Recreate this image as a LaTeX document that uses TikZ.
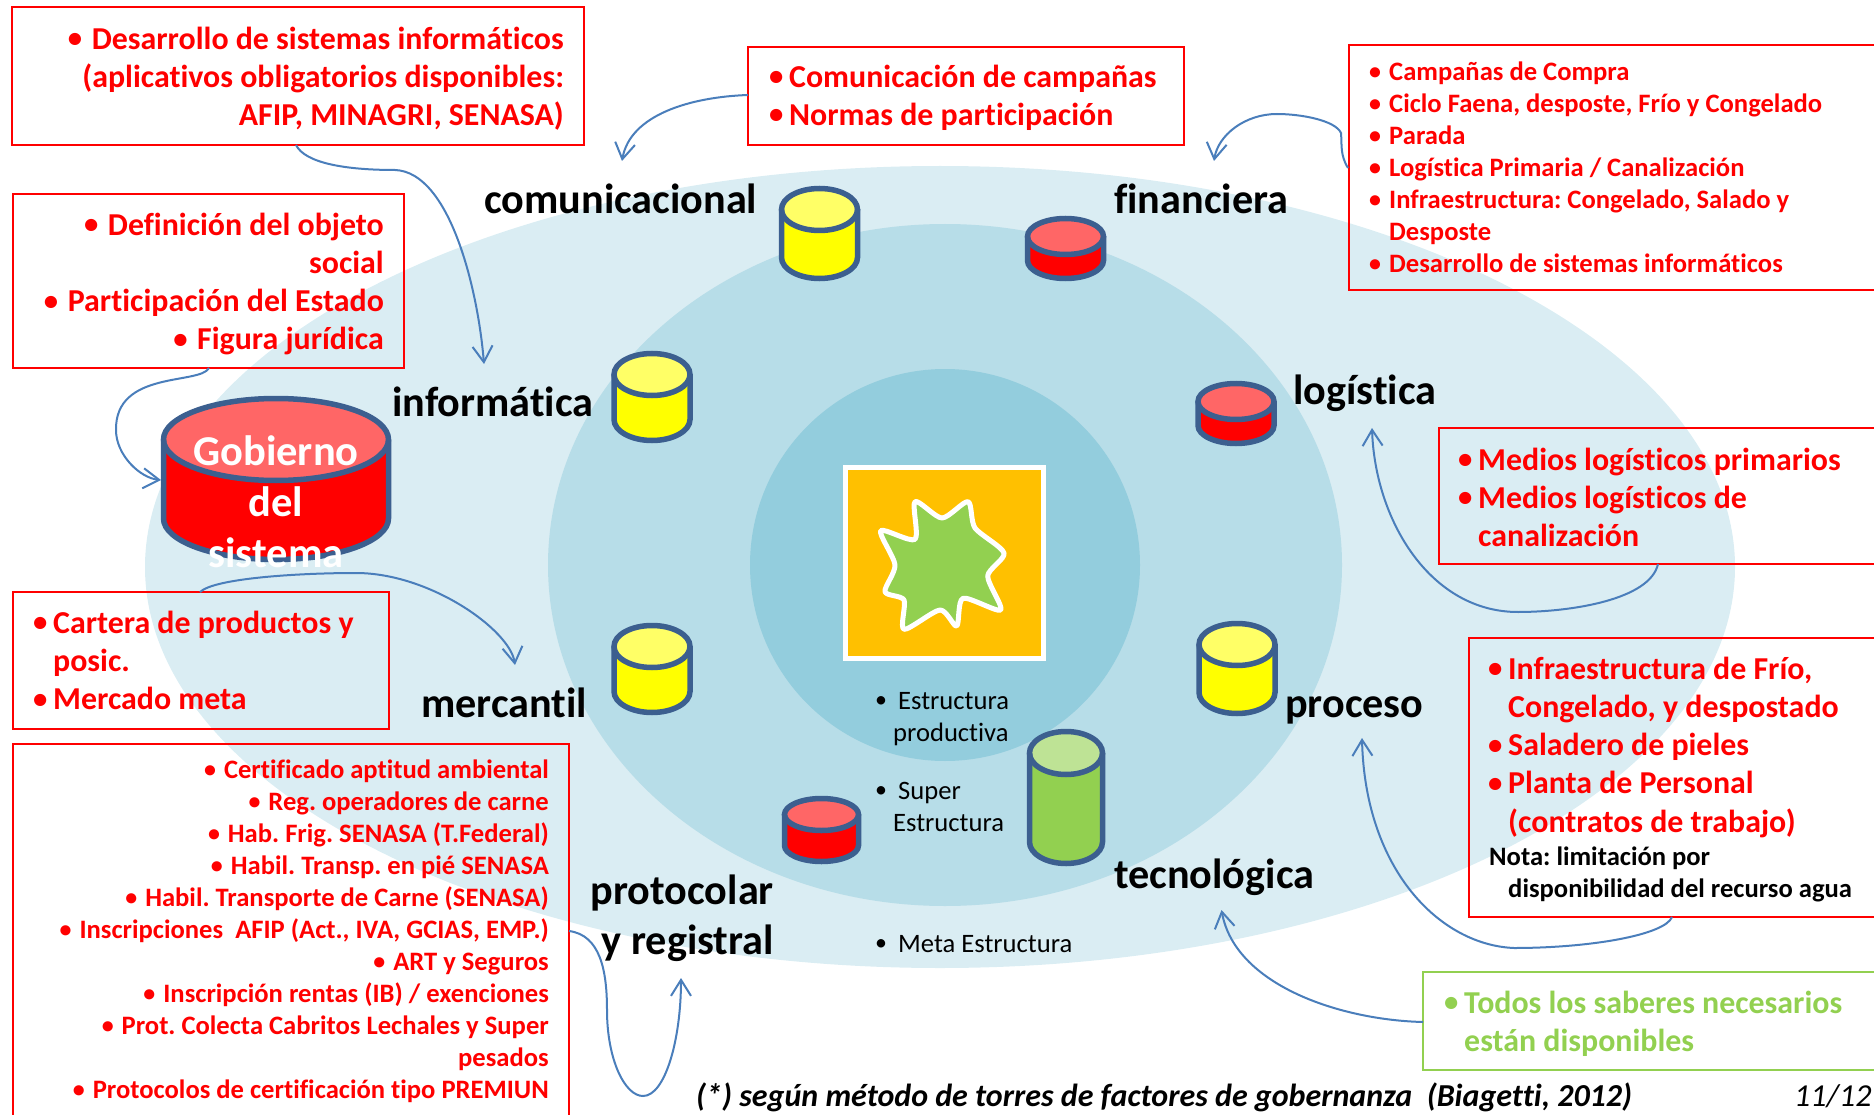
\documentclass[tikz,border=0pt]{standalone}
\usepackage{fontspec}
\setmainfont{Carlito}[Ligatures=CommonOff]
\frenchspacing
\usetikzlibrary{arrows.meta,shapes.geometric}
\definecolor{ringa}{HTML}{DAEDF3}
\definecolor{ringb}{HTML}{B7DDE8}
\definecolor{ringc}{HTML}{93CDDD}
\definecolor{cylline}{HTML}{3C5F8F}
\definecolor{conn}{HTML}{4A7EBB}
\definecolor{grn}{HTML}{92D050}
\definecolor{grnlt}{HTML}{BEE395}
\definecolor{redlt}{HTML}{FF6666}
\definecolor{yelfull}{HTML}{FFFF00}
\definecolor{yellt}{HTML}{FFFF66}
\definecolor{orng}{HTML}{FFC000}
\newcommand{\sbul}{\raisebox{0.05em}{\scalebox{0.9}{•}}}
\newcommand{\bl}{\sbul\hspace{0.3em}}
\newcommand{\bh}[1]{\makebox[#1pt][l]{\hspace{1pt}\sbul}}
\newcommand{\ih}[1]{\hspace*{#1pt}}
% cx, half width, top outer y, bottom outer y, ry, body fill, top fill
\newcommand{\mycyl}[7]{%
  \pgfmathsetmacro{\ctop}{#3+2.5+#5}
  \pgfmathsetmacro{\cbot}{#4-2.5-#5}
  \fill[#6] (#1-#2,\ctop) -- (#1-#2,\cbot) arc[start angle=180,end angle=360,x radius=#2,y radius=-#5] -- (#1+#2,\ctop) -- cycle;
  \filldraw[cylbody,fill=#7] (#1,\ctop) ellipse[x radius=#2,y radius=#5];
  \draw[cylbody] (#1-#2,\ctop) -- (#1-#2,\cbot) .. controls (#1-#2,\cbot+#5*0.55) and (#1-#2*0.55,\cbot+#5) .. (#1,\cbot+#5) .. controls (#1+#2*0.55,\cbot+#5) and (#1+#2,\cbot+#5*0.55) .. (#1+#2,\cbot) -- (#1+#2,\ctop);
}
\tikzset{
  x=1pt,y=-1pt,
  cylbody/.style={draw=cylline,line width=5.5pt},
  boxst/.style={draw=red,line width=2pt,anchor=north west,inner sep=0pt,outer sep=0pt},
  bigt/.style={inner sep=0pt,text=red,yshift=-1pt,font=\fontsize{31.9}{38.2}\selectfont\bfseries},
  smallt/.style={inner sep=0pt,text=red,yshift=-0.5pt,font=\fontsize{26.6}{32}\selectfont\bfseries},
  axis/.style={anchor=base west,inner sep=0pt,yshift=-1.5pt,font=\fontsize{42.2}{50}\selectfont\bfseries},
  plain/.style={inner sep=0pt,anchor=base west,yshift=-1pt,font=\fontsize{26.6}{32}\selectfont},
  link/.style={draw=conn,line width=2pt,-{Straight Barb[length=16pt,width=20pt,line width=2pt]}},
}
\begin{document}
\begin{tikzpicture}
\useasboundingbox (0,0) rectangle (1874,1115);
% rings
\fill[ringa] (940,567) ellipse[x radius=795,y radius=401];
\fill[ringb] (945,565) ellipse[x radius=397,y radius=341];
\fill[ringc] (945,565) ellipse[x radius=195,y radius=196];
% square + star
\node[draw=white,fill=orng,line width=5pt,minimum width=198pt,minimum height=191pt,inner sep=0pt] (sq) at (944.5,563) {};
\filldraw[fill=grn,draw=white,line width=5pt,line join=round]
 plot[smooth cycle,tension=0.45] coordinates {(915,501.7)(942,518)(968,501.7)(975,528)(1004,553)(987.7,576)(1000.7,610)(963,598.3)(956.7,626)(940,610)(904,629.3)(904,600)(885,591.7)(895,565)(880.7,530.7)(915,539.3)};
% cylinders
\mycyl{819.5}{38}{186}{281}{21}{yelfull}{yellt}
\mycyl{1065.5}{38}{216}{281}{18}{red}{redlt}
\mycyl{652}{38}{351}{443}{21}{yelfull}{yellt}
\mycyl{1236}{38}{381}{446}{18}{red}{redlt}
\mycyl{652}{38}{623}{715}{21}{yelfull}{yellt}
\mycyl{1237}{38}{621}{716}{21}{yelfull}{yellt}
\mycyl{1066}{36.5}{729}{866}{21.5}{grn}{grnlt}
\mycyl{821.5}{37}{796}{864}{16}{red}{redlt}
\mycyl{276}{112.5}{396}{562}{41}{red}{redlt}
% Gobierno text
\node[inner sep=0pt,text=white,align=center,anchor=north,font=\fontsize{42.5}{51}\selectfont\bfseries] (gob) at (276,430) {\strut Gobierno\\del\\sistema};
% axis labels
\node[axis] (lcom) at (484,212) {comunicacional};
\node[axis] (lfin) at (1114,212) {financiera};
\node[axis] (linf) at (392,415) {informática};
\node[axis] (llog) at (1293,403) {logística};
\node[axis] (lmer) at (421,716) {mercantil};
\node[axis] (lpro) at (1285,716) {proceso};
\node[axis] (ltec) at (1114,887) {tecnológica};
\node[axis,anchor=north east,align=right,font=\fontsize{42.2}{50}\selectfont\bfseries] (lprt) at (774,868) {\strut protocolar\\y registral};
% black small text
\node[plain] (e1) at (875,708) {\sbul};
\node[plain] (e1b) at (898,708) {Estructura};
\node[plain] (e1c) at (893,740) {productiva};
\node[plain] (e2) at (875,798) {\sbul};
\node[plain] (e2b) at (898,798) {Super};
\node[plain] (e2c) at (893,830) {Estructura};
\node[plain] (e3) at (875,951) {\sbul};
\node[plain] (e3b) at (898,951) {Meta Estructura};
% boxes
\node[boxst,minimum width=572pt,minimum height=138pt] (b1) at (12,7) {};
\node[boxst,minimum width=391pt,minimum height=174pt] (b2) at (13,194) {};
\node[boxst,minimum width=376pt,minimum height=137pt] (b3) at (13,592) {};
\node[boxst,minimum width=436pt,minimum height=98pt] (b5) at (748,47) {};
\node[boxst,minimum width=526pt,minimum height=245pt] (b6) at (1349,45) {};
\node[boxst,minimum width=436pt,minimum height=136pt] (b7) at (1439,428) {};
\node[boxst,minimum width=406pt,minimum height=279pt] (b8) at (1469,638) {};
\node[boxst,draw=grn,minimum width=452pt,minimum height=98pt] (b9) at (1423,972) {};
% open box at the bottom edge
\coordinate (b4bl) at (13,1115);
\coordinate (b4tl) at (13,744);
\coordinate (b4tr) at (569,744);
\coordinate (b4br) at (569,1115);
\draw[red,line width=2pt] (b4bl) -- (b4tl) -- (b4tr) -- (b4br);
% box texts
\node[bigt,align=right,anchor=north east] (t1) at (564,21.3) {\strut\bl Desarrollo de sistemas informáticos\\(aplicativos obligatorios disponibles:\\AFIP, MINAGRI, SENASA)};
\node[bigt,align=right,anchor=north east] (t2) at (384,207.3) {\strut\bl Definición del objeto\\social\\\bl Participación del Estado\\\bl Figura jurídica};
\node[bigt,align=left,anchor=north west] (t3) at (32,605.3) {\strut\bh{21}Cartera de productos y\\\ih{21}posic.\\\bh{21}Mercado meta};
\node[smallt,align=right,anchor=north east] (t4) at (549,755.6) {\strut\bl Certificado aptitud ambiental\\\bl Reg. operadores de carne\\\bl Hab. Frig. SENASA (T.Federal)\\\bl Habil. Transp. en pié SENASA\\\bl Habil. Transporte de Carne (SENASA)\\\bl Inscripciones\ \ AFIP (Act., IVA, GCIAS, EMP.)\\\bl ART y Seguros\\\bl Inscripción rentas (IB) / exenciones\\\bl Prot. Colecta Cabritos Lechales y Super\\pesados\\\bl Protocolos de certificación tipo PREMIUN};
\node[bigt,align=left,anchor=north west] (t5) at (768,59.3) {\strut\bh{21}Comunicación de campañas\\\bh{21}Normas de participación};
\node[smallt,align=left,anchor=north west] (t6) at (1368,57.6) {\strut\bh{21}Campañas de Compra\\\bh{21}Ciclo Faena, desposte, Frío y Congelado\\\bh{21}Parada\\\bh{21}Logística Primaria / Canalización\\\bh{21}Infraestructura: Congelado, Salado y\\\ih{21}Desposte\\\bh{21}Desarrollo de sistemas informáticos};
\node[bigt,align=left,anchor=north west] (t7) at (1457,442.3) {\strut\bh{21}Medios logísticos primarios\\\bh{21}Medios logísticos de\\\ih{21}canalización};
\node[bigt,align=left,anchor=north west] (t8) at (1487,651.3) {\strut\bh{21}Infraestructura de Frío,\\\ih{21}Congelado, y despostado\\\bh{21}Saladero de pieles\\\bh{21}Planta de Personal\\\ih{21}(contratos de trabajo)};
\node[smallt,text=black,align=left,anchor=north west] (t8b) at (1489,842.6) {\strut Nota: limitación por\\\ih{19}disponibilidad del recurso agua};
\node[bigt,text=grn,align=left,anchor=north west] (t9) at (1443,985.3) {\strut\bh{21}Todos los saberes necesarios\\\ih{21}están disponibles};
% connector ends
\coordinate (p1s) at (296,145);
\coordinate (p1e) at (484,364);
\coordinate (p2s) at (748,95);
\coordinate (p2e) at (622,161);
\coordinate (p3s) at (1348,168);
\coordinate (p3e) at (1214,161);
\coordinate (p4s) at (209,368);
\coordinate (p4e) at (161,480);
\coordinate (p5s) at (200,592);
\coordinate (p5e) at (515,665);
\coordinate (p6s) at (569,931);
\coordinate (p6e) at (681,978);
\coordinate (p7s) at (1658,564);
\coordinate (p7e) at (1372,428);
\coordinate (p8s) at (1672,917);
\coordinate (p8e) at (1362,738);
\coordinate (p9s) at (1423,1022);
\coordinate (p9e) at (1221.5,910);
\draw[link] (p1s) .. controls (305,163) and (345,170) .. (395,170) .. controls (450,172) and (478,290) .. (p1e);
\draw[link] (p2s) .. controls (690,97) and (630,115) .. (p2e);
\draw[link] (p3s) .. controls (1340,155) and (1342,145) .. (1341,133) .. controls (1335,120) and (1300,114) .. (1277,114) .. controls (1245,114) and (1218,135) .. (p3e);
\draw[link] (p4s) .. controls (200,385) and (115,370) .. (116,430) .. controls (116,455) and (140,478) .. (p4e);
\draw[link] (p5s) .. controls (215,578) and (300,573) .. (356,573) .. controls (430,573) and (510,630) .. (p5e);
\draw[link] (p6s) .. controls (600,935) and (607,970) .. (607,1010) .. controls (607,1060) and (625,1096) .. (643,1096) .. controls (665,1096) and (681,1040) .. (p6e);
\draw[link] (p7s) .. controls (1650,600) and (1570,612) .. (1518,612) .. controls (1430,612) and (1375,520) .. (p7e);
\draw[link] (p8s) .. controls (1665,935) and (1590,948) .. (1514,948) .. controls (1440,945) and (1365,870) .. (p8e);
\draw[link] (p9s) .. controls (1340,1020) and (1235,985) .. (p9e);
% footer
\node[inner sep=0pt,anchor=base west,font=\fontsize{32}{36}\selectfont\bfseries\itshape] (foot) at (696,1106) {(*) según método de torres de factores de gobernanza\ \ (Biagetti, 2012)};
\node[inner sep=0pt,anchor=base west,font=\fontsize{32}{36}\selectfont\itshape] (pg) at (1794,1106) {11/12};
\end{tikzpicture}
\end{document}
